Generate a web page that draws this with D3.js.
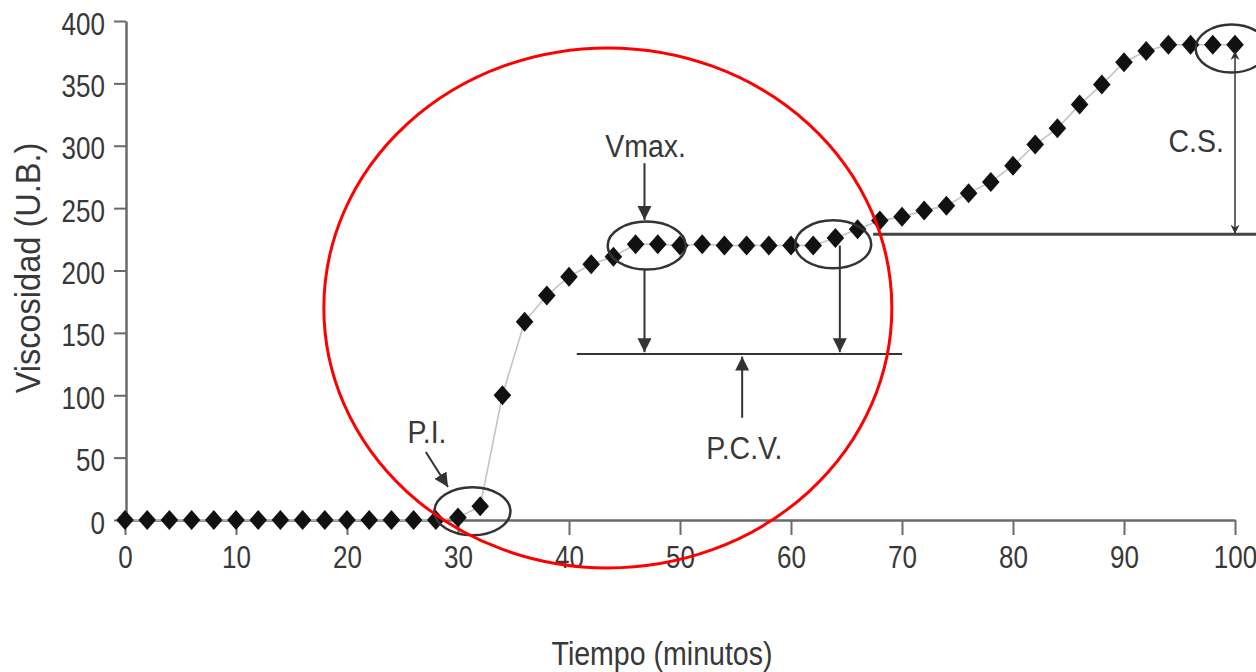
<!DOCTYPE html>
<html>
<head>
<meta charset="utf-8">
<script src="https://cdn.jsdelivr.net/npm/d3@7"></script>
<style>
  html, body { margin: 0; padding: 0; background: #fff; }
  svg { display: block; }
  text { font-family: "Liberation Sans", Arial, sans-serif; fill: #383838; }
</style>
</head>
<body>
<svg id="chart" width="1256" height="672"></svg>
<script>
// Amylograph-style viscosity curve (Brabender units) over time
const minutes = [0, 2, 4, 6, 8, 10, 12, 14, 16, 18, 20, 22, 24, 26, 28,
                 30, 32, 34, 36, 38, 40, 42, 44, 46, 48, 50, 52, 54, 56, 58,
                 60, 62, 64, 66, 68, 70, 72, 74, 76, 78, 80, 82, 84, 86, 88,
                 90, 92, 94, 96, 98, 100];
const viscosity = [0, 0, 0, 0, 0, 0, 0, 0, 0, 0, 0, 0, 0, 0, 0,
                   2, 11, 100, 159, 180, 195, 205, 211, 221, 221, 220, 221, 220, 220, 220,
                   220, 220, 226, 233, 240, 243, 248, 252, 262, 271, 284, 301, 314, 333, 349,
                   367, 376, 381, 381, 381, 381];
const xTicks = [0, 10, 20, 30, 40, 50, 60, 70, 80, 90, 100];
const yTicks = [0, 50, 100, 150, 200, 250, 300, 350, 400];

const points = minutes.map((t, i) => ({ t, v: viscosity[i] }));

const svg = d3.select("#chart");
const x = d3.scaleLinear().domain([0, 100]).range([125, 1235]);
const y = d3.scaleLinear().domain([0, 400]).range([520, 21]);

// condensed lettering: horizontal squeeze of the sans face
const tickSqueeze = 0.84;
const labelSqueeze = 0.92;

// arrowhead markers
const defs = svg.append("defs");
defs.append("marker").attr("id", "head").attr("viewBox", "0 0 10 10")
  .attr("refX", 10).attr("refY", 5).attr("markerWidth", 7).attr("markerHeight", 7)
  .attr("markerUnits", "strokeWidth").attr("orient", "auto-start-reverse")
  .append("path").attr("d", "M0,0L10,5L0,10Z").attr("fill", "#333");
defs.append("marker").attr("id", "smallhead").attr("viewBox", "0 0 10 10")
  .attr("refX", 10).attr("refY", 5).attr("markerWidth", 7).attr("markerHeight", 6)
  .attr("markerUnits", "strokeWidth").attr("orient", "auto-start-reverse")
  .append("path").attr("d", "M0,0L10,5L0,10L3,5Z").attr("fill", "#333");

// axes
const xAxis = svg.append("g").attr("transform", `translate(0,${y(0)})`)
  .call(d3.axisBottom(x).tickValues(xTicks).tickSize(15).tickSizeOuter(0).tickPadding(11));
const yAxis = svg.append("g").attr("transform", `translate(${x(0) + 1},0)`)
  .call(d3.axisLeft(y).tickValues(yTicks).tickSize(12).tickSizeOuter(0).tickPadding(9));
[xAxis, yAxis].forEach(a => {
  a.select(".domain").attr("stroke", "#6a6a6a").attr("stroke-width", 2.5);
  a.selectAll(".tick line").attr("stroke", "#6a6a6a").attr("stroke-width", 2);
  a.selectAll(".tick text").attr("font-size", 31).attr("fill", "#3a3a3a")
    .style("font-family", '"Liberation Sans", Arial, sans-serif')
    .attr("transform", `scale(${tickSqueeze},1)`);
});
yAxis.selectAll(".tick text").attr("dy", "0.42em").attr("x", -21 / tickSqueeze);

// axis titles
svg.append("text").attr("transform", `translate(662,665) scale(0.84,1)`).attr("text-anchor", "middle")
  .attr("font-size", 34).text("Tiempo (minutos)");
svg.append("text").attr("transform", "translate(40,268) rotate(-90) scale(0.93,1)").attr("text-anchor", "middle")
  .attr("font-size", 35).text("Viscosidad (U.B.)");

// connecting curve
svg.append("path").datum(points)
  .attr("d", d3.line().x(d => x(d.t)).y(d => y(d.v)))
  .attr("fill", "none").attr("stroke", "#c4c4c4").attr("stroke-width", 1.6);

// diamond markers
svg.append("g").selectAll("path").data(points).join("path")
  .attr("transform", d => `translate(${x(d.t)},${y(d.v)})`)
  .attr("d", "M0,-10L8.8,0L0,10L-8.8,0Z")
  .attr("fill", "#111");

// annotation guides
const ink = "#333";
function ellipse(cx, cy, rx, ry) {
  svg.append("ellipse").attr("cx", x(cx)).attr("cy", y(cy)).attr("rx", rx).attr("ry", ry)
    .attr("fill", "none").attr("stroke", ink).attr("stroke-width", 2.5);
}
function arrow(x1, y1, x2, y2, marker, w) {
  svg.append("line").attr("x1", x(x1)).attr("y1", y(y1)).attr("x2", x(x2)).attr("y2", y(y2))
    .attr("stroke", ink).attr("stroke-width", w || 2)
    .attr("marker-end", `url(#${marker || "head"})`);
}
function label(tx, ty, s) {
  svg.append("text").attr("transform", `translate(${x(tx)},${y(ty)}) scale(${labelSqueeze},1)`)
    .attr("text-anchor", "middle").attr("font-size", 31).text(s);
}

// P.I. (pasting start)
ellipse(31.3, 7, 38, 24);
arrow(27.1, 54.5, 29.1, 26.5);
label(27.2, 62, "P.I.");

// Vmax. and P.C.V.
ellipse(47.0, 220, 39, 24);
ellipse(63.8, 221, 38, 24);
arrow(46.8, 286, 46.8, 240.5);
label(46.9, 291, "Vmax.");
arrow(46.8, 201, 46.8, 134.5);
arrow(64.4, 220, 64.4, 134.5);
svg.append("line").attr("x1", x(40.7)).attr("x2", x(70)).attr("y1", y(133)).attr("y2", y(133))
  .attr("stroke", ink).attr("stroke-width", 2);
arrow(55.6, 82, 55.6, 131);
label(55.8, 49, "P.C.V.");

// C.S. (setback)
ellipse(99.7, 378, 36, 24);
svg.append("line").attr("x1", x(67.4)).attr("x2", 1256).attr("y1", y(229)).attr("y2", y(229))
  .attr("stroke", "#444").attr("stroke-width", 3);
svg.append("line").attr("x1", x(100)).attr("x2", x(100)).attr("y1", y(376)).attr("y2", y(229.5))
  .attr("stroke", ink).attr("stroke-width", 1.5)
  .attr("marker-start", "url(#smallhead)").attr("marker-end", "url(#smallhead)");
label(96.5, 295, "C.S.");

// highlighted region
svg.append("ellipse").attr("cx", x(43.5)).attr("cy", y(170)).attr("rx", 284).attr("ry", 260)
  .attr("fill", "none").attr("stroke", "#ff0000").attr("stroke-width", 3);
</script>
</body>
</html>
